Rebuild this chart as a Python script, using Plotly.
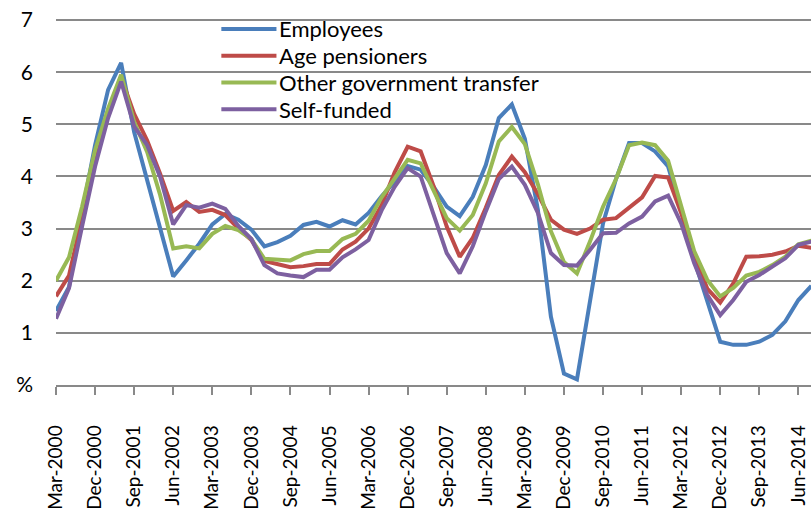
"""Quarterly price growth by household type, 2000-2014."""

import plotly.graph_objects as go

MONTHS = ["Mar", "Jun", "Sep", "Dec"]
QUARTERS = [f"{m}-{y}" for y in range(2000, 2015) for m in MONTHS][:59]

EMPLOYEES = [
    1.42, 1.88, 3.30, 4.60, 5.66, 6.18, 4.85, 3.93, 2.94, 2.08,
    2.39, 2.71, 3.08, 3.28, 3.17, 2.98, 2.66, 2.74, 2.86, 3.07,
    3.13, 3.04, 3.16, 3.08, 3.30, 3.62, 3.90, 4.20, 4.13, 3.80,
    3.42, 3.24, 3.61, 4.22, 5.12, 5.38, 4.72, 3.36, 1.31, 0.22,
    0.11, 1.60, 3.10, 3.95, 4.64, 4.64, 4.48, 4.19, 3.36, 2.40,
    1.63, 0.83, 0.77, 0.77, 0.83, 0.96, 1.22, 1.63, 1.90,
]
AGE_PENSIONERS = [
    1.70, 2.10, 3.20, 4.30, 5.20, 5.90, 5.20, 4.69, 4.05, 3.34,
    3.51, 3.32, 3.36, 3.26, 3.00, 2.78, 2.38, 2.31, 2.26, 2.28,
    2.32, 2.32, 2.60, 2.75, 3.00, 3.45, 4.08, 4.57, 4.48, 3.81,
    3.04, 2.46, 2.82, 3.40, 4.03, 4.38, 4.08, 3.66, 3.17, 2.98,
    2.90, 3.00, 3.17, 3.20, 3.40, 3.60, 4.01, 3.98, 3.30, 2.50,
    1.85, 1.58, 1.95, 2.46, 2.47, 2.50, 2.56, 2.67, 2.63,
]
OTHER_TRANSFER = [
    2.00, 2.45, 3.42, 4.50, 5.30, 5.95, 5.05, 4.47, 3.64, 2.62,
    2.66, 2.62, 2.90, 3.05, 2.97, 2.80, 2.42, 2.41, 2.39, 2.51,
    2.57, 2.57, 2.80, 2.90, 3.15, 3.60, 3.95, 4.32, 4.25, 3.72,
    3.20, 2.96, 3.26, 3.87, 4.67, 4.95, 4.62, 3.85, 2.95, 2.36,
    2.14, 2.75, 3.42, 3.95, 4.60, 4.65, 4.60, 4.30, 3.42, 2.57,
    2.02, 1.70, 1.86, 2.10, 2.17, 2.30, 2.46, 2.70, 2.77,
]
SELF_FUNDED = [
    1.27, 1.86, 3.04, 4.19, 5.12, 5.82, 4.96, 4.60, 3.99, 3.08,
    3.45, 3.40, 3.48, 3.38, 3.05, 2.80, 2.30, 2.14, 2.10, 2.07,
    2.21, 2.21, 2.45, 2.60, 2.78, 3.35, 3.80, 4.16, 4.00, 3.29,
    2.53, 2.14, 2.66, 3.33, 3.95, 4.19, 3.84, 3.30, 2.53, 2.30,
    2.29, 2.59, 2.91, 2.92, 3.10, 3.23, 3.52, 3.63, 3.10, 2.34,
    1.73, 1.34, 1.63, 1.98, 2.11, 2.27, 2.43, 2.69, 2.75,
]

SERIES = [
    ("Employees", EMPLOYEES, "#4a7ebb"),
    ("Age pensioners", AGE_PENSIONERS, "#be4b48"),
    ("Other government transfer", OTHER_TRANSFER, "#98b954"),
    ("Self-funded", SELF_FUNDED, "#7d60a0"),
]

Y_TICKS = [0, 1, 2, 3, 4, 5, 6, 7]
Y_LABELS = ["%", "1", "2", "3", "4", "5", "6", "7"]

GRID = "#898989"

# legend drawn by hand (Excel-style: long line sample, tight rows)
LEG_X0, LEG_X1, LEG_TX = 0.219, 0.292, 0.2925
LEG_Y0, LEG_DY = 0.973, 0.0731

fig = go.Figure()
for k, (name, values, color) in enumerate(SERIES):
    fig.add_trace(go.Scatter(
        x=QUARTERS,
        y=values,
        name=name,
        mode="lines",
        line=dict(color=color, width=4),
        showlegend=False,
    ))
    ly = LEG_Y0 - k * LEG_DY
    fig.add_shape(
        type="line", xref="paper", yref="paper",
        x0=LEG_X0, x1=LEG_X1, y0=ly, y1=ly,
        line=dict(color=color, width=4),
    )
    fig.add_annotation(
        xref="paper", yref="paper", x=LEG_TX, y=ly,
        text=name, showarrow=False, xanchor="left", yanchor="middle",
        font=dict(size=22),
    )

fig.update_layout(
    width=811,
    height=509,
    margin=dict(l=56, r=0, t=19, b=124),
    paper_bgcolor="white",
    plot_bgcolor="white",
    font=dict(family="Lato, sans-serif", size=21, color="#000000"),
    xaxis=dict(
        type="category",
        range=[0, 57.97],
        tickvals=QUARTERS[::3],
        tickangle=-90,
        tickfont=dict(size=19),
        showgrid=False,
        showline=True,
        linecolor=GRID,
        linewidth=1.5,
        ticks="outside",
        ticklen=8,
        tickwidth=1.5,
        tickcolor=GRID,
        ticklabelstandoff=23,
    ),
    yaxis=dict(
        range=[0, 7.02],
        tickvals=Y_TICKS,
        ticktext=Y_LABELS,
        showgrid=True,
        gridcolor=GRID,
        gridwidth=1.5,
        zeroline=False,
        showline=False,
        ticks="",
        ticklabelstandoff=22,
    ),
)

fig.write_html(
    "out.html",
    config={"displayModeBar": False},
    post_script="document.body.style.margin = '0';",
)
